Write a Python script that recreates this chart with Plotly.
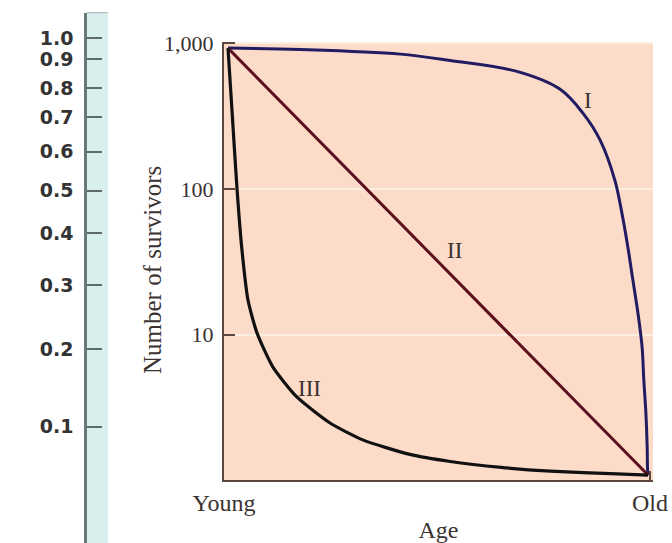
import math
import plotly.graph_objects as go

# ---- data ----
age_I = [0, 0.171, 0.410, 0.529, 0.688, 0.790, 0.845, 0.886, 0.921, 0.938, 0.952,
         0.964, 0.976, 0.986, 0.990, 0.995, 0.998, 0.999, 1.0]
surv_I = [925, 905, 841, 760, 640, 484, 331, 216, 115, 68, 40,
          23.7, 14.1, 8.2, 4.9, 2.9, 1.70, 1.18, 1.09]

age_II = [0, 1.0]
surv_II = [925, 1.09]

age_III = [0, 0.0095, 0.0214, 0.0333, 0.0476, 0.069, 0.107, 0.164, 0.243, 0.321,
           0.433, 0.529, 0.65, 0.767, 0.926, 1.0]
surv_III = [925, 347, 101, 38, 17.3, 10.3, 6.0, 3.74, 2.48, 1.90,
            1.51, 1.35, 1.23, 1.16, 1.11, 1.09]

curve_names = ["I", "II", "III"]
label_age = [0.857, 0.540, 0.195]
label_surv = [407, 38, 4.3]

y_tickvals = [10, 100, 1000]
y_ticktext = ["10", "100", "1,000"]
x_tickvals = [-0.0095, 1.0048]
x_ticktext = ["Young", "Old"]
y_title = "Number of survivors"
x_title = "Age"

# cropped neighbouring panel scale (distance from panel top, px-like units)
panel_labels = ["1.0", "0.9", "0.8", "0.7", "0.6", "0.5", "0.4", "0.3", "0.2", "0.1"]
panel_pos = [38.3, 59.3, 88.3, 117.3, 151.7, 190.7, 233.3, 285, 349.3, 426.7]

W, H = 672, 543
SERIF = "Liberation Serif"
TXT = "#3b3232"

fig = go.Figure()
fig.add_trace(go.Scatter(x=age_I, y=surv_I, mode="lines", name="I",
                         line=dict(color="#211c62", width=3, shape="spline", smoothing=1.0)))
fig.add_trace(go.Scatter(x=age_II, y=surv_II, mode="lines", name="II",
                         line=dict(color="#5c0f1c", width=3)))
fig.add_trace(go.Scatter(x=age_III, y=surv_III, mode="lines", name="III",
                         line=dict(color="#111111", width=3.2, shape="spline", smoothing=0.6)))

# invisible trace to create the side panel axes
fig.add_trace(go.Scatter(x=[0], y=[panel_pos[0]], xaxis="x2", yaxis="y2",
                         mode="markers", marker=dict(opacity=0), showlegend=False,
                         hoverinfo="skip"))

for name, ax, sv in zip(curve_names, label_age, label_surv):
    fig.add_annotation(x=ax, y=math.log10(sv), text=name, showarrow=False,
                       xref="x", yref="y",
                       font=dict(family=SERIF, size=23, color=TXT))

# y-axis title placed as rotated text
fig.add_annotation(x=152 / W, y=1 - 270 / H, xref="paper", yref="paper",
                   text=y_title, textangle=-90, showarrow=False,
                   xanchor="center", yanchor="middle",
                   font=dict(family=SERIF, size=25, color=TXT))

fig.update_layout(
    width=W, height=H,
    margin=dict(l=0, r=0, t=0, b=0, autoexpand=False),
    paper_bgcolor="white", plot_bgcolor="rgba(0,0,0,0)",
    showlegend=False,
    xaxis=dict(domain=[224 / W, 653 / W], range=[-0.0095, 1.0119],
               tickvals=x_tickvals, ticktext=x_ticktext, automargin=False,
               ticks="inside", ticklen=9, tickwidth=2, tickcolor="#5b4640",
               showline=True, linecolor="#5b4640", linewidth=2,
               showgrid=False, zeroline=False, anchor="y",
               tickfont=dict(family=SERIF, size=24, color=TXT),
               title=dict(text=x_title, font=dict(family=SERIF, size=24, color=TXT), standoff=8)),
    yaxis=dict(domain=[1 - 480 / H, 1 - 42 / H], type="log", range=[0.0034, 3.008],
               tickvals=y_tickvals, ticktext=y_ticktext, automargin=False,
               ticks="inside", ticklen=11, tickwidth=2, tickcolor="#5b4640",
               showline=True, linecolor="#5b4640", linewidth=2,
               showgrid=True, gridcolor="#fdeee2", gridwidth=1.5, zeroline=False,
               anchor="x", ticklabelstandoff=4,
               tickfont=dict(family=SERIF, size=22, color=TXT)),
    xaxis2=dict(domain=[87 / W, 108 / W], range=[0, 1], visible=False, anchor="y2"),
    yaxis2=dict(domain=[0, 1 - 12.7 / H], range=[543, 12.7], anchor="x2", automargin=False,
                tickvals=panel_pos, ticktext=panel_labels,
                ticks="inside", ticklen=15, tickwidth=1.5, tickcolor="#5f6b6a",
                showline=True, linecolor="#6b7776", linewidth=2.5,
                showgrid=False, zeroline=False, ticklabelstandoff=7,
                tickfont=dict(family="DejaVu Sans", size=19, color="#333333", weight="bold")),
    shapes=[
        dict(type="rect", xref="x domain", yref="y domain", x0=0, x1=1, y0=0, y1=1,
             fillcolor="#fcdbc8", line=dict(width=0), layer="below"),
        dict(type="rect", xref="x2 domain", yref="y2 domain", x0=0, x1=1, y0=0, y1=1,
             fillcolor="#d9efed", line=dict(width=0), layer="below"),
        dict(type="line", xref="x2 domain", yref="y2 domain", x0=0, x1=1, y0=1, y1=1,
             line=dict(color="#a5b1af", width=1)),
    ],
)

fig.write_html("out.html", config={"displayModeBar": False},
               post_script="document.body.style.margin='0';")
